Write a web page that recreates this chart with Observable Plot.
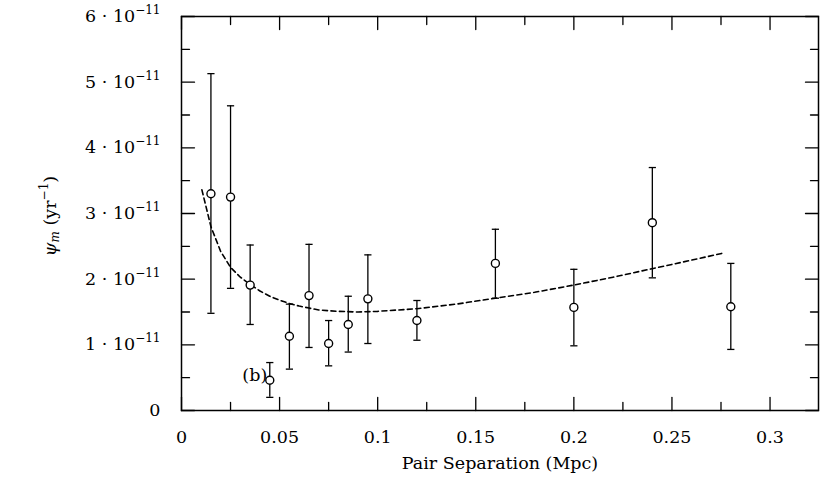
<!DOCTYPE html>
<html><head><meta charset="utf-8">
<script src="https://cdn.jsdelivr.net/npm/d3@7"></script>
<script src="https://cdn.jsdelivr.net/npm/@observablehq/plot@0.6"></script>
<style>body{margin:0;background:#fff}</style>
</head><body><div id="chart"></div>
<script>
// Data (y values in units of 1e-11 yr^-1)
const sepX  = [0.015, 0.025, 0.035, 0.045, 0.055, 0.065, 0.075, 0.085, 0.095, 0.12, 0.16, 0.2, 0.24, 0.28];
const psiY  = [3.30, 3.25, 1.91, 0.46, 1.13, 1.75, 1.02, 1.31, 1.70, 1.37, 2.24, 1.57, 2.86, 1.58];
const errLo = [1.48, 1.86, 1.31, 0.20, 0.63, 0.96, 0.68, 0.89, 1.02, 1.07, 1.71, 0.985, 2.02, 0.93];
const errHi = [5.13, 4.64, 2.52, 0.73, 1.62, 2.53, 1.37, 1.74, 2.37, 1.675, 2.76, 2.15, 3.70, 2.24];
const fitX  = [0.0104, 0.015, 0.02, 0.025, 0.03, 0.035, 0.04, 0.045, 0.05, 0.055, 0.06, 0.065, 0.07, 0.08, 0.09, 0.1, 0.12, 0.14, 0.16, 0.18, 0.2, 0.22, 0.24, 0.26, 0.2765];
const fitY  = [3.36, 2.80, 2.42, 2.18, 2.03, 1.92, 1.82, 1.74, 1.68, 1.63, 1.59, 1.56, 1.53, 1.51, 1.50, 1.51, 1.55, 1.62, 1.71, 1.80, 1.91, 2.03, 2.16, 2.29, 2.40];
const xMajor = [0, 0.05, 0.1, 0.15, 0.2, 0.25, 0.3];
const xMinor = [0.025, 0.075, 0.125, 0.175, 0.225, 0.275];
const yMajor = [0, 1, 2, 3, 4, 5, 6];
const yMinor = [0.5, 1.5, 2.5, 3.5, 4.5, 5.5];
const annotation = [{x: 0.0437, y: 0.53, label: "(b)"}];

const points = sepX.map((x, i) => ({x, y: psiY[i], lo: errLo[i], hi: errHi[i]}));
const fit = fitX.map((x, i) => ({x, y: fitY[i]}));

const capSymbol = {draw(ctx, size) { const w = Math.sqrt(size / Math.PI); ctx.moveTo(-w, 0); ctx.lineTo(w, 0); }};
const tickShape = {draw(ctx, l) { ctx.moveTo(0, 0); ctx.lineTo(0, -l); }};
const FONT = "DejaVu Serif";
const FS = 17.5;
const SUP = 12;

// inward ticks on all four sides, as short vectors from the frame edges
const rot = {bottom: 0, top: 180, left: 90, right: -90};
const tickMarks = [];
for (const edge of ["bottom", "top"]) {
  tickMarks.push(Plot.vector(xMajor, {x: d => d, frameAnchor: edge, length: 13, rotate: rot[edge], anchor: "start", shape: tickShape, stroke: "black", strokeWidth: 1.3}));
  tickMarks.push(Plot.vector(xMinor, {x: d => d, frameAnchor: edge, length: 8, rotate: rot[edge], anchor: "start", shape: tickShape, stroke: "black", strokeWidth: 1.3}));
}
for (const edge of ["left", "right"]) {
  tickMarks.push(Plot.vector(yMajor, {y: d => d, frameAnchor: edge, length: 13, rotate: rot[edge], anchor: "start", shape: tickShape, stroke: "black", strokeWidth: 1.3}));
  tickMarks.push(Plot.vector(yMinor, {y: d => d, frameAnchor: edge, length: 8, rotate: rot[edge], anchor: "start", shape: tickShape, stroke: "black", strokeWidth: 1.3}));
}

const chart = Plot.plot({
  width: 830, height: 489,
  marginLeft: 181, marginRight: 12, marginTop: 16, marginBottom: 79,
  style: {fontFamily: FONT, fontSize: FS + "px", color: "black", background: "white"},
  x: {domain: [0, 0.3247]},
  y: {domain: [0, 6]},
  marks: [
    Plot.axisX(xMajor, {anchor: "bottom", tickSize: 0, tickPadding: 20, fontSize: FS, label: null, tickFormat: d => String(d)}),
    Plot.axisY(yMajor, {anchor: "left", tickSize: 0, tickPadding: 21, fontSize: FS, label: null, tickFormat: d => d === 0 ? "0" : `${d} · 10`}),
    ...tickMarks,
    Plot.frame({stroke: "black", strokeWidth: 1.5}),
    Plot.line(fit, {x: "x", y: "y", stroke: "black", strokeWidth: 1.6, strokeDasharray: "5,3.5"}),
    Plot.ruleX(points, {x: "x", y1: "lo", y2: "hi", stroke: "black", strokeWidth: 1.3}),
    Plot.dot(points, {x: "x", y: "lo", symbol: capSymbol, r: 3.6, stroke: "black", strokeWidth: 1.3}),
    Plot.dot(points, {x: "x", y: "hi", symbol: capSymbol, r: 3.6, stroke: "black", strokeWidth: 1.3}),
    Plot.dot(points, {x: "x", y: "y", r: 4, stroke: "black", strokeWidth: 1.4, fill: "white"}),
    Plot.text(annotation, {x: "x", y: "y", text: "label", textAnchor: "end", fontSize: FS}),
    Plot.text(["Pair Separation (Mpc)"], {frameAnchor: "bottom", dy: 58, fontSize: FS})
  ]
});
document.getElementById("chart").appendChild(chart);

const svg = d3.select(chart);
// superscripts on y tick labels
svg.selectAll('g[aria-label="y-axis tick label"] text').each(function() {
  const t = d3.select(this);
  if (t.text().endsWith("10")) {
    t.append("tspan").attr("dy", "-8").attr("font-size", SUP + "px").text("\u221211");
  }
});

// y axis title: ψ_m (yr^−1)
const yl = svg.append("text")
  .attr("transform", "translate(56,216) rotate(-90)")
  .attr("text-anchor", "middle")
  .attr("font-family", FONT)
  .attr("font-size", FS + "px")
  .attr("fill", "black");
yl.append("tspan").attr("font-style", "italic").text("\u03c8");
yl.append("tspan").attr("font-style", "italic").attr("font-size", SUP + "px").attr("dy", "3").text("m");
yl.append("tspan").attr("dy", "-3").text(" (yr");
yl.append("tspan").attr("font-size", SUP + "px").attr("dy", "-8").text("\u22121");
yl.append("tspan").attr("dy", "8").text(")");
</script>
</body></html>
